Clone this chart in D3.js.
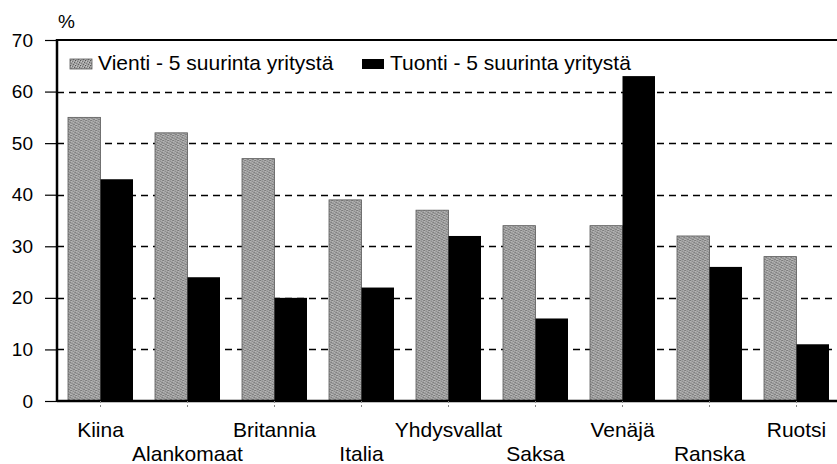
<!DOCTYPE html>
<html>
<head>
<meta charset="utf-8">
<script src="https://cdn.jsdelivr.net/npm/d3@7"></script>
<style>
  body { margin: 0; background: #fff; }
  svg text { font-family: "Liberation Sans", Arial, sans-serif; fill: #000; }
</style>
</head>
<body>
<svg id="chart" width="837" height="464"></svg>
<script>
var categories = ["Kiina", "Alankomaat", "Britannia", "Italia", "Yhdysvallat", "Saksa", "Venäjä", "Ranska", "Ruotsi"],
    vientiValues = [55, 52, 47, 39, 37, 34, 34, 32, 28],
    tuontiValues = [43, 24, 20, 22, 32, 16, 63, 26, 11],
    seriesNames = ["Vienti - 5 suurinta yritystä", "Tuonti - 5 suurinta yritystä"],
    yTicks = [0, 10, 20, 30, 40, 50, 60, 70];

(function () {
    'use strict';

    var svg = d3.select("#chart"),
        left = 57,
        right = 840,
        plotTop = 40,
        bottom = 401;

    // stippled gray fill for the export bars
    var defs = svg.append("defs");
    var pat = defs.append("pattern")
        .attr("id", "stipple")
        .attr("patternUnits", "userSpaceOnUse")
        .attr("width", 5)
        .attr("height", 5);
    pat.append("rect").attr("width", 5).attr("height", 5).attr("fill", "#a2a2a2");
    [[0, 0, "#555"], [2, 1, "#777"], [4, 2, "#5e5e5e"], [1, 3, "#808080"], [3, 4, "#646464"],
     [1, 1, "#cacaca"], [3, 2, "#c2c2c2"], [0, 4, "#c8c8c8"], [4, 0, "#b8b8b8"]]
        .forEach(function (p) {
            pat.append("rect").attr("x", p[0]).attr("y", p[1]).attr("width", 1).attr("height", 1).attr("fill", p[2]);
        });

    var x = d3.scaleBand().domain(categories).range([left, right]).padding(0);
    var y = d3.scaleLinear().domain([0, 70]).range([bottom, plotTop]);
    var barW = 32.5;

    // dashed grid lines
    svg.append("g")
        .selectAll("line")
        .data(yTicks.filter(function (d) { return d > 0 && d < 70; }))
        .enter()
        .append("line")
        .attr("x1", left)
        .attr("x2", 837)
        .attr("y1", function (d) { return Math.round(y(d)) + 0.5; })
        .attr("y2", function (d) { return Math.round(y(d)) + 0.5; })
        .attr("stroke", "#000")
        .attr("stroke-width", 1.3)
        .attr("stroke-dasharray", "7,5");

    // bars
    var groups = svg.append("g")
        .selectAll("g")
        .data(categories)
        .enter()
        .append("g")
        .attr("transform", function (d) { return "translate(" + (x(d) + x.bandwidth() / 2) + ",0)"; });

    groups.append("rect")
        .attr("x", -barW)
        .attr("width", barW)
        .attr("y", function (d, i) { return y(vientiValues[i]); })
        .attr("height", function (d, i) { return y(0) - y(vientiValues[i]); })
        .attr("fill", "url(#stipple)")
        .attr("stroke", "#5a5a5a")
        .attr("stroke-width", 0.8);

    groups.append("rect")
        .attr("x", 0)
        .attr("width", barW)
        .attr("y", function (d, i) { return y(tuontiValues[i]); })
        .attr("height", function (d, i) { return y(0) - y(tuontiValues[i]); })
        .attr("fill", "#000");

    // frame: top, left, bottom
    svg.append("line").attr("x1", left).attr("x2", 837).attr("y1", plotTop).attr("y2", plotTop)
        .attr("stroke", "#000").attr("stroke-width", 2);
    svg.append("line").attr("x1", left).attr("x2", left).attr("y1", plotTop - 1).attr("y2", bottom + 1)
        .attr("stroke", "#000").attr("stroke-width", 2.5);
    svg.append("line").attr("x1", left).attr("x2", 837).attr("y1", bottom).attr("y2", bottom)
        .attr("stroke", "#000").attr("stroke-width", 2.5);

    // y axis
    var yAxis = svg.append("g")
        .attr("transform", "translate(" + left + ",0)")
        .call(d3.axisLeft(y).tickValues(yTicks).tickSize(12).tickPadding(12));
    yAxis.select(".domain").remove();
    yAxis.selectAll("line").attr("stroke", "#000").attr("stroke-width", 1.2);
    yAxis.selectAll("text")
        .attr("font-size", "19px")
        .attr("font-family", "Liberation Sans, Arial, sans-serif")
        .attr("fill", "#000");

    svg.append("text")
        .attr("x", 58)
        .attr("y", 28)
        .attr("font-size", "19px")
        .text("%");

    // x axis with staggered labels
    var xAxis = svg.append("g")
        .attr("transform", "translate(0," + bottom + ")")
        .call(d3.axisBottom(x).tickSize(8).tickPadding(0));
    xAxis.select(".domain").remove();
    xAxis.selectAll("line").attr("stroke", "#888").attr("stroke-width", 1).attr("stroke-dasharray", "2,2");
    xAxis.selectAll("text")
        .attr("font-size", "21px")
        .attr("font-family", "Liberation Sans, Arial, sans-serif")
        .attr("fill", "#000")
        .attr("dy", null)
        .attr("y", function (d, i) { return i % 2 === 0 ? 36 : 60; });

    // legend
    var legend = svg.append("g");
    var legendX = [70, 362];
    seriesNames.forEach(function (name, i) {
        legend.append("rect")
            .attr("x", legendX[i])
            .attr("y", 59)
            .attr("width", 22)
            .attr("height", 10)
            .attr("fill", i === 0 ? "url(#stipple)" : "#000")
            .attr("stroke", i === 0 ? "#5a5a5a" : "none")
            .attr("stroke-width", 0.8);
        legend.append("text")
            .attr("x", legendX[i] + 28)
            .attr("y", 70)
            .attr("font-size", "21px")
            .text(name);
    });
})();
</script>
</body>
</html>
